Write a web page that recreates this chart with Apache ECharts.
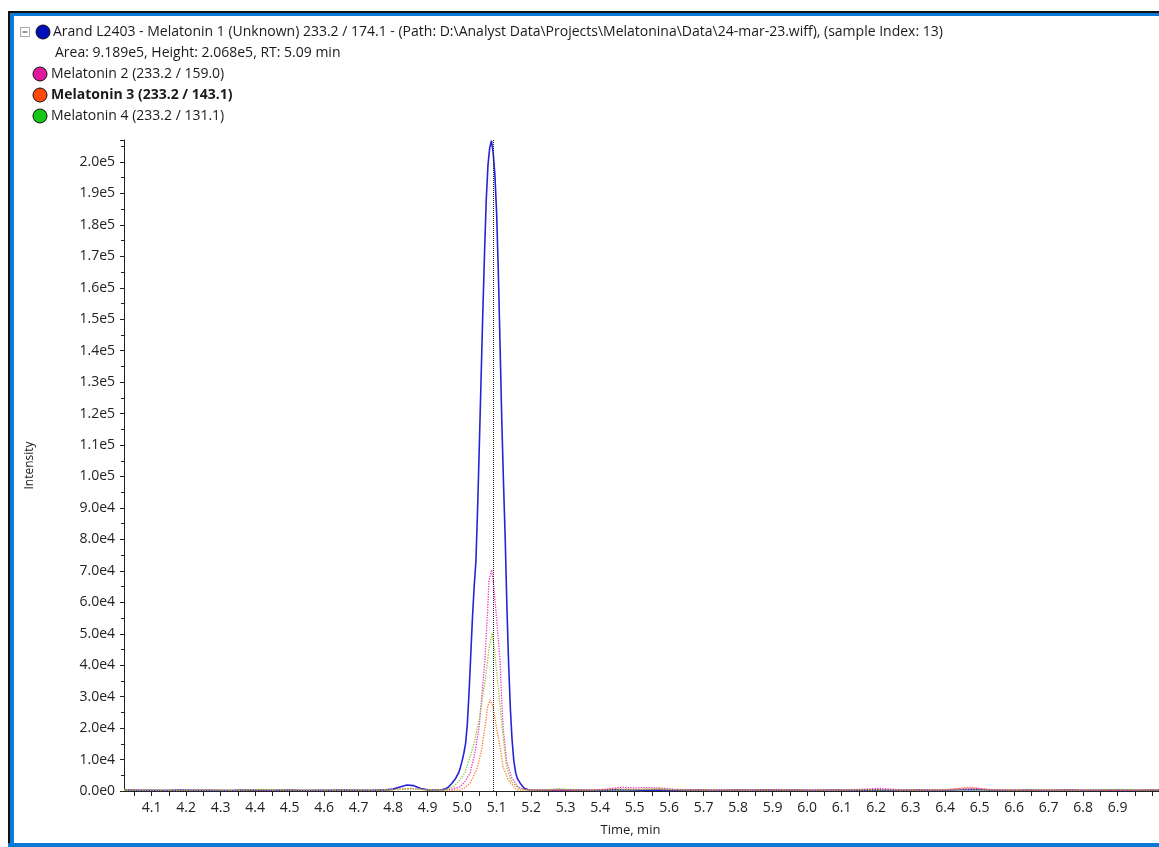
<!DOCTYPE html>
<html lang="en">
<head>
    <meta charset="UTF-8">
    <script src="https://cdn.jsdelivr.net/npm/echarts@6/dist/echarts.min.js"></script>
    <title>Melatonin XIC</title>
    <style>
        html, body { margin: 0; padding: 0; background: #fff; }
        #main { width: 1159px; height: 847px; }
    </style>
</head>
<body>
<div id="main"></div>
<script type="text/javascript">
    // series names (legend)
    var seriesNames = ['Melatonin 1', 'Melatonin 2 (233.2 / 159.0)', 'Melatonin 3 (233.2 / 143.1)', 'Melatonin 4 (233.2 / 131.1)'];
    var seriesColors = ['#2424d6', '#f030c8', '#ff7a2a', '#8ccc30'];
    var legendColors = ['#0010b8', '#e0189e', '#ff4a08', '#18c818'];
    var rtTime = 5.086;

    // [time (min), intensity]
    var m1Points = [
        [4.02, 300], [4.06, 200], [4.10, 250], [4.14, 150], [4.18, 300], [4.22, 200], [4.26, 250], [4.30, 150],
        [4.34, 200], [4.38, 300], [4.42, 250], [4.46, 200], [4.50, 300], [4.54, 150], [4.58, 250], [4.62, 200],
        [4.66, 300], [4.70, 250], [4.74, 200], [4.78, 350], [4.80, 600], [4.82, 1300], [4.84, 1900], [4.86, 1700],
        [4.88, 800], [4.90, 350], [4.92, 300], [4.94, 400], [4.95, 600], [4.96, 1200], [4.97, 2400], [4.98, 3800],
        [4.99, 5800], [4.995, 7500], [5.0, 9500], [5.005, 12000], [5.01, 15000], [5.015, 21000], [5.02, 31000],
        [5.025, 43000], [5.03, 55000], [5.035, 65000], [5.04, 73000], [5.045, 90000], [5.05, 110000],
        [5.055, 131000], [5.06, 152000], [5.065, 171000], [5.07, 188000], [5.075, 199000], [5.08, 204500],
        [5.085, 206800], [5.09, 203000], [5.095, 196000], [5.1, 184000], [5.105, 165000], [5.11, 142000],
        [5.115, 118000], [5.12, 98000], [5.125, 80000], [5.13, 58000], [5.135, 40000], [5.14, 26000],
        [5.145, 16000], [5.15, 9500], [5.155, 6000], [5.16, 4000], [5.17, 2200], [5.18, 900], [5.19, 450],
        [5.20, 300], [5.24, 250], [5.28, 200], [5.32, 300], [5.36, 250], [5.40, 200], [5.44, 350], [5.48, 300],
        [5.52, 250], [5.56, 300], [5.60, 200], [5.64, 250], [5.68, 300], [5.72, 200], [5.76, 250], [5.80, 300],
        [5.84, 200], [5.88, 350], [5.92, 250], [5.96, 300], [6.00, 200], [6.04, 250], [6.08, 300], [6.12, 200],
        [6.16, 250], [6.20, 300], [6.24, 200], [6.28, 250], [6.32, 300], [6.36, 200], [6.40, 250], [6.44, 400],
        [6.48, 500], [6.52, 300], [6.56, 200], [6.60, 250], [6.64, 300], [6.68, 200], [6.72, 250], [6.76, 300],
        [6.80, 200], [6.84, 250], [6.88, 300], [6.92, 200], [6.96, 250], [7.00, 300], [7.02, 250]
    ];
    var m2Points = [
        [4.02, 400], [4.07, 200], [4.12, 300], [4.17, 150], [4.22, 250], [4.27, 350], [4.32, 200], [4.37, 250],
        [4.42, 300], [4.47, 200], [4.52, 350], [4.57, 250], [4.62, 200], [4.67, 300], [4.72, 250], [4.77, 200],
        [4.82, 500], [4.86, 700], [4.90, 400], [4.95, 300], [4.97, 600], [4.994, 1300], [5.01, 3200],
        [5.023, 5700], [5.037, 12000], [5.049, 20000], [5.058, 31000], [5.066, 41600], [5.074, 57500],
        [5.078, 67000], [5.0855, 70300], [5.09, 67000], [5.098, 57500], [5.11, 41600], [5.114, 31000],
        [5.119, 20000], [5.129, 9500], [5.143, 4400], [5.162, 1300], [5.18, 500], [5.22, 300], [5.27, 400],
        [5.32, 300], [5.37, 250], [5.42, 600], [5.46, 1200], [5.50, 1000], [5.54, 1100], [5.58, 900], [5.62, 500],
        [5.67, 400], [5.72, 300], [5.77, 400], [5.82, 300], [5.87, 350], [5.92, 500], [5.97, 300], [6.02, 250],
        [6.07, 300], [6.12, 400], [6.17, 600], [6.21, 900], [6.25, 500], [6.30, 300], [6.35, 350], [6.40, 400],
        [6.45, 700], [6.49, 900], [6.53, 500], [6.58, 300], [6.63, 250], [6.68, 300], [6.73, 250], [6.78, 300],
        [6.83, 250], [6.88, 300], [6.93, 250], [6.98, 300], [7.02, 400]
    ];
    var m3Points = [
        [4.02, 200], [4.07, 300], [4.12, 150], [4.17, 250], [4.22, 200], [4.27, 300], [4.32, 250], [4.37, 200],
        [4.42, 350], [4.47, 250], [4.52, 300], [4.57, 200], [4.62, 250], [4.67, 300], [4.72, 200], [4.77, 300],
        [4.82, 600], [4.85, 900], [4.88, 500], [4.92, 250], [4.96, 200], [4.994, 300], [5.01, 1200],
        [5.023, 2500], [5.042, 6700], [5.0565, 13000], [5.066, 20000], [5.074, 26700], [5.0806, 28900],
        [5.09, 26700], [5.1, 20000], [5.11, 14000], [5.119, 7600], [5.134, 3500], [5.158, 300], [5.2, 250],
        [5.25, 300], [5.30, 250], [5.35, 300], [5.40, 400], [5.45, 700], [5.50, 500], [5.55, 600], [5.60, 400],
        [5.65, 300], [5.70, 250], [5.75, 300], [5.80, 250], [5.85, 300], [5.90, 250], [5.95, 300], [6.00, 250],
        [6.05, 300], [6.10, 250], [6.15, 300], [6.20, 400], [6.25, 300], [6.30, 250], [6.35, 300], [6.40, 400],
        [6.44, 800], [6.47, 1200], [6.50, 700], [6.55, 300], [6.60, 250], [6.65, 300], [6.70, 250], [6.75, 300],
        [6.80, 250], [6.85, 300], [6.90, 250], [6.95, 300], [7.02, 250]
    ];
    var m4Points = [
        [4.02, 250], [4.07, 200], [4.12, 300], [4.17, 200], [4.22, 250], [4.27, 300], [4.32, 200], [4.37, 300],
        [4.42, 500], [4.47, 350], [4.52, 250], [4.57, 300], [4.62, 200], [4.67, 250], [4.72, 300], [4.77, 250],
        [4.82, 500], [4.85, 800], [4.88, 500], [4.92, 300], [4.95, 300], [4.974, 1300], [4.99, 3000],
        [5.008, 5700], [5.032, 14000], [5.0496, 22600], [5.061, 31000], [5.068, 36000], [5.0785, 45800],
        [5.087, 50200], [5.093, 45800], [5.102, 36000], [5.11, 27000], [5.119, 17000], [5.129, 7600],
        [5.143, 3000], [5.167, 500], [5.2, 300], [5.25, 400], [5.28, 800], [5.31, 500], [5.35, 300], [5.40, 250],
        [5.45, 300], [5.50, 400], [5.54, 600], [5.57, 800], [5.60, 500], [5.65, 300], [5.70, 250], [5.75, 300],
        [5.80, 250], [5.85, 300], [5.90, 250], [5.95, 300], [6.00, 250], [6.05, 300], [6.10, 300], [6.15, 350],
        [6.20, 300], [6.25, 250], [6.30, 300], [6.35, 250], [6.40, 300], [6.45, 400], [6.50, 300], [6.55, 250],
        [6.60, 300], [6.65, 400], [6.70, 300], [6.75, 250], [6.80, 300], [6.85, 400], [6.90, 500], [6.95, 400],
        [7.02, 300]
    ];

    // tick positions on the time axis
    var xTickValues = [4.05, 4.1, 4.15, 4.2, 4.25, 4.3, 4.35, 4.4, 4.45, 4.5, 4.55, 4.6, 4.65, 4.7, 4.75, 4.8,
        4.85, 4.9, 4.95, 5.0, 5.05, 5.1, 5.15, 5.2, 5.25, 5.3, 5.35, 5.4, 5.45, 5.5, 5.55, 5.6, 5.65, 5.7, 5.75,
        5.8, 5.85, 5.9, 5.95, 6.0, 6.05, 6.1, 6.15, 6.2, 6.25, 6.3, 6.35, 6.4, 6.45, 6.5, 6.55, 6.6, 6.65, 6.7,
        6.75, 6.8, 6.85, 6.9, 6.95, 7.0];
    var xLabelValues = [4.1, 4.2, 4.3, 4.4, 4.5, 4.6, 4.7, 4.8, 4.9, 5.0, 5.1, 5.2, 5.3, 5.4, 5.5, 5.6, 5.7,
        5.8, 5.9, 6.0, 6.1, 6.2, 6.3, 6.4, 6.5, 6.6, 6.7, 6.8, 6.9];

    var headerLine1 = 'Arand L2403 - Melatonin 1 (Unknown) 233.2 / 174.1 - (Path: D:\\Analyst Data\\Projects\\Melatonina\\Data\\24-mar-23.wiff), (sample Index: 13)';
    var headerLine2 = 'Area: 9.189e5, Height: 2.068e5, RT: 5.09 min';

    var font = '"Open Sans", "Noto Sans", sans-serif';
    var myChart = echarts.init(document.getElementById('main'));

    // legend built by hand (window style)
    var legendRows = [
        { y: 32, cx: 43, tx: 53, text: headerLine1, color: legendColors[0], bold: false, circle: true },
        { y: 53, cx: 43, tx: 55, text: headerLine2, color: null, bold: false, circle: false },
        { y: 74, cx: 40, tx: 51, text: seriesNames[1], color: legendColors[1], bold: false, circle: true },
        { y: 95, cx: 40, tx: 51, text: seriesNames[2], color: legendColors[2], bold: true, circle: true },
        { y: 116, cx: 40, tx: 51, text: seriesNames[3], color: legendColors[3], bold: false, circle: true }
    ];
    var graphics = [
        // window frame
        { type: 'rect', shape: { x: 8, y: 11, width: 1151, height: 2 }, style: { fill: '#111' }, silent: true },
        { type: 'rect', shape: { x: 8, y: 13, width: 1151, height: 3 }, style: { fill: '#0a7ad6' }, silent: true },
        { type: 'rect', shape: { x: 8, y: 11, width: 2, height: 836 }, style: { fill: '#111' }, silent: true },
        { type: 'rect', shape: { x: 10, y: 13, width: 4, height: 834 }, style: { fill: '#0a7ad6' }, silent: true },
        { type: 'rect', shape: { x: 8, y: 843, width: 1151, height: 4 }, style: { fill: '#0a7ad6' }, silent: true },
        // collapse box
        { type: 'rect', shape: { x: 20.5, y: 27.5, width: 9, height: 9 }, style: { fill: '#fff', stroke: '#a8a8a8', lineWidth: 1 }, silent: true },
        { type: 'line', shape: { x1: 22.5, y1: 32, x2: 27.5, y2: 32 }, style: { stroke: '#333', lineWidth: 1 }, silent: true }
    ];
    legendRows.forEach(function (r) {
        if (r.circle) {
            graphics.push({
                type: 'circle', shape: { cx: r.cx, cy: r.y, r: 7 },
                style: { fill: r.color, stroke: '#111', lineWidth: 1 }, silent: true
            });
        }
        graphics.push({
            type: 'text', x: r.tx, y: r.y,
            style: {
                text: r.text, fill: '#1a1a1a', font: (r.bold ? 'bold ' : '') + '14px ' + font,
                verticalAlign: 'middle', align: 'left'
            },
            silent: true
        });
    });

    function sciLabel(v) {
        if (v % 10000 !== 0) return '';
        return v.toExponential(1).replace('+', '');
    }

    var lineSeries = [m1Points, m2Points, m3Points, m4Points].map(function (pts, i) {
        var s = {
            name: seriesNames[i],
            type: 'line',
            data: pts,
            showSymbol: false,
            symbol: 'none',
            smooth: false,
            clip: true,
            z: i === 0 ? 2 : 3,
            lineStyle: {
                color: seriesColors[i],
                width: i === 0 ? 1.6 : 1.3,
                type: i === 0 ? 'solid' : 'dotted'
            }
        };
        if (i === 0) {
            s.markLine = {
                silent: true,
                symbol: ['none', 'none'],
                label: { show: false },
                lineStyle: { color: '#222', type: 'dotted', width: 1 },
                data: [{ xAxis: rtTime }]
            };
        }
        return s;
    });

    var option = {
        backgroundColor: '#fff',
        animation: false,
        textStyle: { fontFamily: font },
        grid: { left: 124, right: 0, top: 140, bottom: 56, containLabel: false },
        graphic: graphics,
        xAxis: {
            type: 'value',
            min: 4.02,
            max: 7.02,
            name: 'Time, min',
            nameLocation: 'middle',
            nameGap: 33,
            nameTextStyle: { color: '#222', fontSize: 13, fontFamily: font, padding: [0, 22, 0, 0] },
            axisLine: { show: true, onZero: false, lineStyle: { color: '#222', width: 1 } },
            axisTick: { show: true, length: 5, customValues: xTickValues, lineStyle: { color: '#222' } },
            axisLabel: {
                customValues: xLabelValues, margin: 10, color: '#222', fontSize: 14, fontFamily: font,
                formatter: function (v) { return v.toFixed(1); }
            },
            splitLine: { show: false }
        },
        yAxis: {
            type: 'value',
            min: 0,
            max: 207000,
            interval: 10000,
            name: 'Intensity',
            nameLocation: 'middle',
            nameRotate: 90,
            nameGap: 88,
            nameTextStyle: { color: '#222', fontSize: 12, fontFamily: font },
            axisLine: { show: true, lineStyle: { color: '#222', width: 1 } },
            axisTick: { show: true, length: 4, lineStyle: { color: '#222' } },
            minorTick: { show: true, splitNumber: 2, length: 3, lineStyle: { color: '#222' } },
            axisLabel: { margin: 9, color: '#222', fontSize: 14, fontFamily: font, showMaxLabel: false, formatter: sciLabel },
            splitLine: { show: false }
        },
        series: lineSeries
    };

    myChart.setOption(option);
</script>
</body>
</html>
